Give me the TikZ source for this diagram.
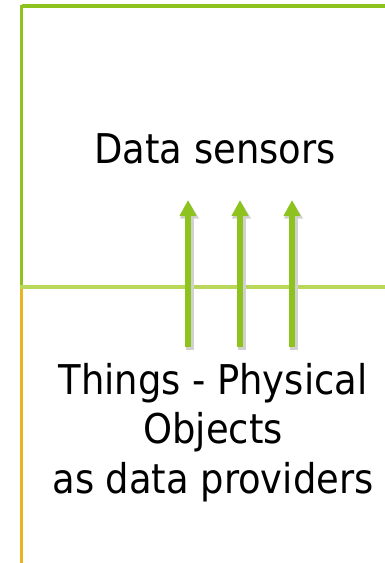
\documentclass[tikz,border=0pt]{standalone}
\usepackage{fontspec}
\setmainfont{DejaVu Sans Condensed}
\usetikzlibrary{arrows.meta}
\definecolor{leafgreen}{HTML}{8DC21F}
\definecolor{palegreen}{HTML}{B9D85A}
\definecolor{amber}{HTML}{E8B520}
\tikzset{
  frameline/.style={line width=3.5pt},
  uparrow/.style={draw=leafgreen,line width=6pt,
    -{Triangle[length=16pt,width=16pt,fill=leafgreen]},
    preaction={draw=black!18,line width=8pt,transform canvas={xshift=1.5pt,yshift=-2.5pt},
      -{Triangle[length=16pt,width=18pt]}}},
  textblock/.style={font=\fontsize{41}{49}\selectfont,text=black,inner sep=0pt,anchor=base}
}
\begin{document}
\begin{tikzpicture}[x=1pt,y=-1pt]
\useasboundingbox (0,0) rectangle (385,563);
% frame of the upper panel
\draw[frameline,leafgreen] (21.5,6) -- (385,6);
\draw[frameline,leafgreen] (21.5,4.5) -- (21.5,287);
\draw[frameline,amber] (21.5,287) -- (21.5,563);
\draw[frameline,palegreen] (20,287) -- (385,287);
% labels
\node[textblock] (sensors) at (215,163) {Data sensors};
\node[textblock] (things1) at (213,394) {Things - Physical};
\node[textblock] (things2) at (213,443) {Objects};
\node[textblock] (things3) at (213,493) {as data providers};
% three upward arrows
\coordinate (s1) at (188,347); \coordinate (e1) at (188,200);
\coordinate (s2) at (240,347); \coordinate (e2) at (240,200);
\coordinate (s3) at (292,347); \coordinate (e3) at (292,200);
\draw[uparrow] (s1) -- (e1);
\draw[uparrow] (s2) -- (e2);
\draw[uparrow] (s3) -- (e3);
\end{tikzpicture}
\end{document}
